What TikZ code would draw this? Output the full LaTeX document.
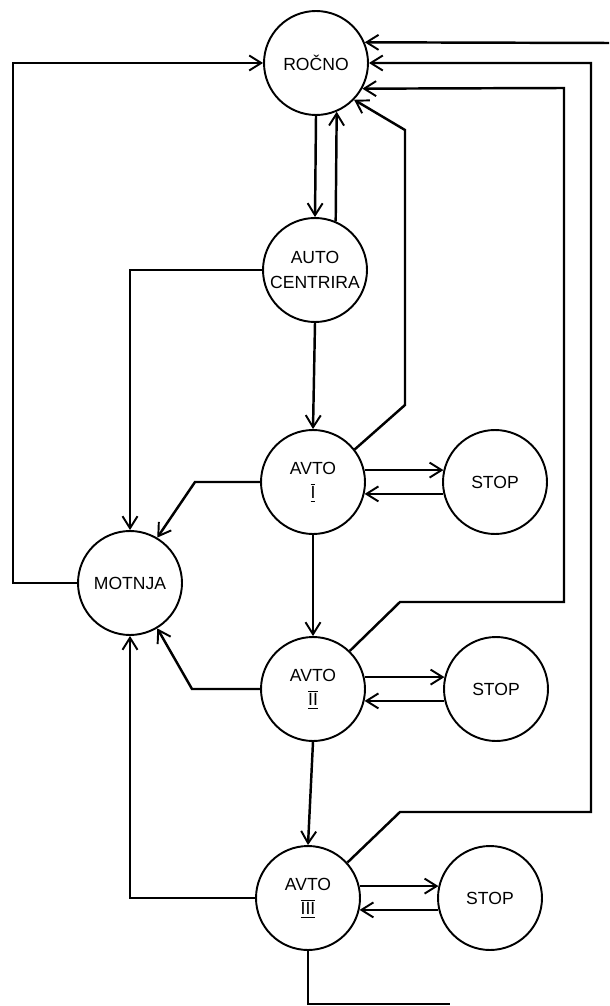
\documentclass[tikz,border=0pt]{standalone}
\usepackage{fontspec}
\setsansfont{Liberation Sans}
\usetikzlibrary{arrows.meta}

\newcommand{\avtonum}[1]{$\overline{\underline{\textsf{#1}}}$}

\begin{document}
\begin{tikzpicture}[x=0.02cm, y=-0.02cm,
    state/.style={draw, circle, line width=1.1pt, minimum size=2.08cm, inner sep=0pt,
      align=center, font=\sffamily\fontsize{10}{14}\selectfont},
    flow/.style={line width=1.4pt},
    >={Straight Barb[length=2.4mm, width=3mm, line width=1.1pt]}]
    \useasboundingbox (0,0) rectangle (609,1006);
    % states
    \node[state] (R) at (316,63) {ROČNO};
    \node[state] (A) at (315,270) {AUTO\\CENTRIRA};
    \node[state] (V1) at (313,482) {AVTO\\\avtonum{I}};
    \node[state] (V2) at (313,689) {AVTO\\\avtonum{II}};
    \node[state] (V3) at (308,898) {AVTO\\\avtonum{III}};
    \node[state] (M) at (130,583) {MOTNJA};
    \node[state] (S1) at (495,482) {STOP};
    \node[state] (S2) at (496,689) {STOP};
    \node[state] (S3) at (490,898) {STOP};
    \coordinate (inR) at (609,43);
    \coordinate (outB) at (450,1004);

    % main chain
    \draw[flow,->] (R.south) -- (A.north);
    \draw[flow,->] (A.67) -- (R.-67);
    \draw[flow,->] (A.south) -- (V1.north);
    \draw[flow,->] (V1.south) -- (V2.north);
    \draw[flow,->] (V2.south) -- (V3.north);

    % to and from MOTNJA
    \draw[flow,->] (A.west) -| (M.north);
    \draw[flow,->] (V1.west) -- (195,482) -- (M.59);
    \draw[flow,->] (V2.west) -- (192,689) -- (M.-59);
    \draw[flow,->] (V3.west) -| (M.south);
    \draw[flow,->] (M.west) -- (13,583) |- (R.west);

    % back to ROCNO
    \draw[flow,->] (V1.38) -- (405,405) -- (405,130) -- (R.-44);
    \draw[flow,->] (V2.46) -- (400,602) -| (564,88) -- (R.-29);
    \draw[flow,->] (V3.42) -- (400,812) -| (591,63) -- (R.east);
    \draw[flow,->] (inR) -- (R.23);
    \draw[flow] (V3.south) |- (outB);

    % STOP loops
    \foreach \v/\s in {V1/S1, V2/S2, V3/S3}{
      \draw[flow,->] (\v.13) -- (\s.167);
      \draw[flow,->] (\s.193) -- (\v.-13);
    }
\end{tikzpicture}
\end{document}
